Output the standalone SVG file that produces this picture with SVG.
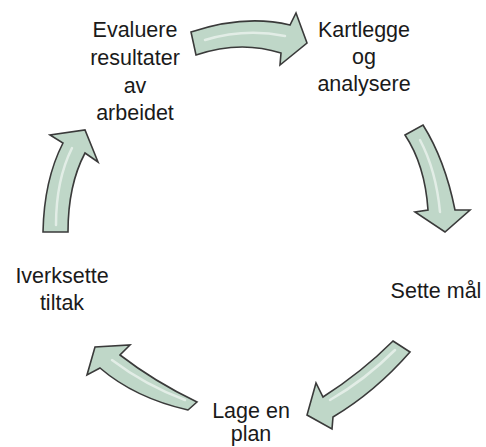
<svg xmlns="http://www.w3.org/2000/svg" width="486" height="447" viewBox="0 0 486 447">
<style>
.lbl{font-family:"Liberation Sans",Arial,sans-serif;font-size:21.5px;fill:#1a1a1a;text-anchor:middle}
.arr{fill:#bfd7c8;stroke:#3a3a3a;stroke-width:1.6;stroke-linejoin:miter}
.hl{fill:none;stroke:#ffffff;stroke-opacity:0.55;stroke-width:2.5;stroke-linecap:round}
</style>
<rect width="486" height="447" fill="#ffffff"/>
<g id="connectors">
  <g id="arrow-top">
    <path class="arr" d="M191,32 Q245,14 290,25 L296,13 L307,43 L280,65 L281,53 Q240,40 196,55 Z"/>
    <path class="hl" d="M205,40 Q245,28 285,36"/>
  </g>
  <g id="arrow-right">
    <path class="arr" d="M405,135 L423,125 Q445,160 455,210 L470,210 L445,232 L415,212 L428,210 Q425,165 405,135 Z"/>
    <path class="hl" d="M420,140 Q436,170 440,212"/>
  </g>
  <g id="arrow-bottom-right">
    <path class="arr" d="M393,341 L410,352 Q375,392 333,417 L332,429 L307,415 L316,383 L323,397 Q362,372 393,341 Z"/>
    <path class="hl" d="M395,350 Q365,380 330,400"/>
  </g>
  <g id="arrow-bottom-left">
    <path class="arr" d="M197,402 L188,410 Q135,398 100,368 L87,375 L95,347 L130,345 L120,355 Q155,382 197,402 Z"/>
    <path class="hl" d="M185,400 Q145,385 112,360"/>
  </g>
  <g id="arrow-left">
    <path class="arr" d="M43,232 L68,232 Q68,185 85,153 L98,162 L85,130 L50,135 L63,143 Q44,180 43,232 Z"/>
    <path class="hl" d="M56,225 Q56,180 72,148"/>
  </g>
</g>
<g id="node-evaluere">
  <text class="lbl" x="135" y="37">Evaluere</text>
  <text class="lbl" x="135" y="65">resultater</text>
  <text class="lbl" x="135" y="93">av</text>
  <text class="lbl" x="135" y="120">arbeidet</text>
</g>
<g id="node-kartlegge">
  <text class="lbl" x="364" y="37">Kartlegge</text>
  <text class="lbl" x="364" y="64">og</text>
  <text class="lbl" x="364" y="91">analysere</text>
</g>
<g id="node-sette">
  <text class="lbl" x="436" y="298">Sette mål</text>
</g>
<g id="node-lage">
  <text class="lbl" x="251" y="418">Lage en</text>
  <text class="lbl" x="251" y="441">plan</text>
</g>
<g id="node-iverksette">
  <text class="lbl" x="62" y="283">Iverksette</text>
  <text class="lbl" x="62" y="310">tiltak</text>
</g>
</svg>
